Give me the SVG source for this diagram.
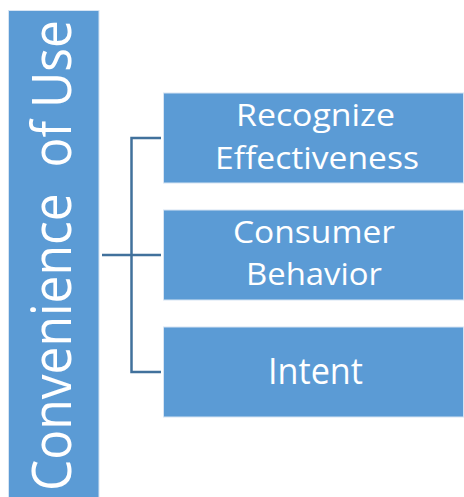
<svg xmlns="http://www.w3.org/2000/svg" width="464" height="497" viewBox="0 0 464 497">
  <style>
    .box { fill: #5B9BD5; stroke: #D6E4F3; stroke-width: 1; }
    .label { fill: #FFFFFF; font-family: "Open Sans", "Noto Sans", sans-serif; text-anchor: middle; }
    .link { fill: none; stroke: #41719C; stroke-width: 2.5; }
  </style>
  <rect width="464" height="497" fill="#FFFFFF"/>

  <g id="connectors">
    <path class="link" d="M102 255 H161"/>
    <path class="link" d="M161 138 H131.5 V372 H161"/>
  </g>

  <g id="root">
    <rect class="box" x="8.5" y="10.5" width="90.5" height="490"/>
    <text class="label" xml:space="preserve" transform="translate(71,491) rotate(-90)" x="0" y="0" style="text-anchor:start" font-size="55" textLength="471" lengthAdjust="spacingAndGlyphs">Convenience  of Use</text>
  </g>

  <g id="recognize">
    <rect class="box" x="163.5" y="93" width="300" height="90"/>
    <text class="label" font-size="31" x="315.5" y="126" textLength="159" lengthAdjust="spacingAndGlyphs">Recognize</text>
    <text class="label" font-size="31" x="317" y="169" textLength="204" lengthAdjust="spacingAndGlyphs">Effectiveness</text>
  </g>

  <g id="consumer">
    <rect class="box" x="163.5" y="210" width="300" height="90"/>
    <text class="label" font-size="31" x="314" y="243" textLength="162" lengthAdjust="spacingAndGlyphs">Consumer</text>
    <text class="label" font-size="31" x="314" y="285" textLength="136" lengthAdjust="spacingAndGlyphs">Behavior</text>
  </g>

  <g id="intent">
    <rect class="box" x="163.5" y="327" width="300" height="90"/>
    <text class="label" font-size="37" x="315.5" y="384" textLength="95" lengthAdjust="spacingAndGlyphs">Intent</text>
  </g>
</svg>
